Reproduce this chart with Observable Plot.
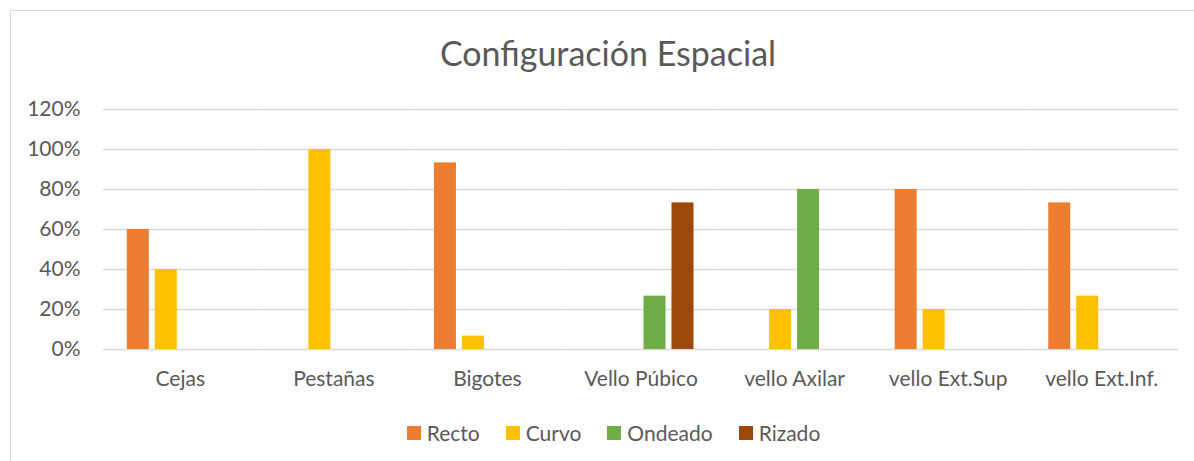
<!DOCTYPE html>
<html>
<head>
<meta charset="utf-8">
<script src="https://cdn.jsdelivr.net/npm/d3@7"></script>
<script src="https://cdn.jsdelivr.net/npm/@observablehq/plot@0.6"></script>
<style>
  html, body { margin: 0; padding: 0; background: #fff; }
  body { width: 1194px; height: 461px; overflow: hidden; position: relative; font-family: Lato, "Open Sans", sans-serif; color: #595959; }
  #frame { position: absolute; left: 10px; top: 10px; width: 1200px; height: 470px; border: 1px solid #d9d9d9; box-sizing: border-box; }
  #title { position: absolute; left: 0; top: 35px; width: 1216px; text-align: center; font-size: 34px; line-height: 36px; }
  #chart { position: absolute; left: 0; top: 95px; }
  #legend { position: absolute; left: 0; top: 422px; width: 1227px; display: flex; justify-content: center; gap: 26px; font-size: 21px; line-height: 22px; }
  .item { display: flex; align-items: center; gap: 6px; }
  .sw { width: 14px; height: 14px; display: inline-block; }
</style>
</head>
<body>
<div id="frame"></div>
<div id="title">Configuración Espacial</div>
<div id="chart"></div>
<div id="legend"></div>
<script>
const categories = ["Cejas", "Pestañas", "Bigotes", "Vello Púbico", "vello Axilar", "vello Ext.Sup", "vello Ext.Inf."];
const series = ["Recto", "Curvo", "Ondeado", "Rizado"];
const colors = ["#ED7D31", "#FFC000", "#70AD47", "#9E480E"];
const recto   = [0.60, 0,    0.933, 0,     0,    0.80, 0.733];
const curvo   = [0.40, 1.00, 0.067, 0,     0.20, 0.20, 0.267];
const ondeado = [0,    0,    0,     0.267, 0.80, 0,    0];
const rizado  = [0,    0,    0,     0.733, 0,    0,    0];
const yTicks = [0, 0.2, 0.4, 0.6, 0.8, 1.0, 1.2];

const valuesBySeries = [recto, curvo, ondeado, rizado];
const data = [];
categories.forEach((c, i) => {
  series.forEach((s, j) => {
    const v = valuesBySeries[j][i];
    if (v > 0) data.push({cat: c, series: s, value: v});
  });
});

const chart = Plot.plot({
  width: 1194,
  height: 299,
  marginLeft: 103,
  marginRight: 16,
  marginTop: 14,
  marginBottom: 45,
  style: {fontFamily: "Lato, 'Open Sans', sans-serif", fontSize: "21px", color: "#595959", background: "transparent"},
  fx: {domain: categories, padding: 0, round: false, label: null, axis: "bottom", tickSize: 0, tickPadding: 22},
  x: {domain: series, paddingInner: 0.214, paddingOuter: 0.85, round: false, axis: null},
  y: {domain: [0, 1.2], ticks: yTicks, tickFormat: d3.format(".0%"), tickSize: 0, tickPadding: 23, label: null},
  color: {domain: series, range: colors},
  marks: [
    Plot.ruleY(yTicks, {stroke: "#d9d9d9", strokeWidth: 1.3}),
    Plot.barY(data, {fx: "cat", x: "series", y: "value", fill: "series"})
  ]
});
document.getElementById("chart").appendChild(chart);

const legend = document.getElementById("legend");
series.forEach((s, j) => {
  const it = document.createElement("div");
  it.className = "item";
  const sw = document.createElement("span");
  sw.className = "sw";
  sw.style.background = colors[j];
  const t = document.createElement("span");
  t.textContent = s;
  it.appendChild(sw);
  it.appendChild(t);
  legend.appendChild(it);
});
</script>
</body>
</html>
